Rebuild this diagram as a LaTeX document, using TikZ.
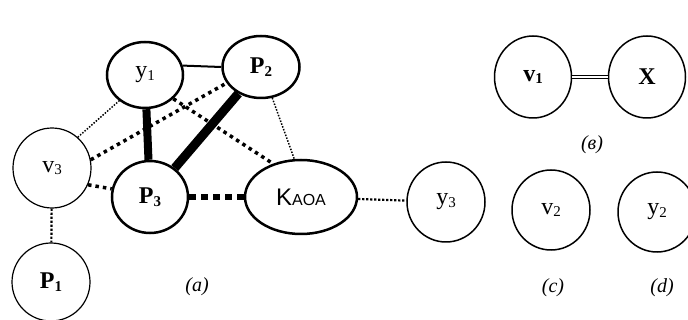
\documentclass[tikz,border=0pt]{standalone}
\usepackage{fontspec}
\setmainfont{Liberation Serif}
\newfontfamily\kaoafont{Liberation Sans}
\usetikzlibrary{shapes.geometric}
\newcommand{\sbs}[1]{\raisebox{-2.5pt}{\fontsize{15}{15}\selectfont #1}}
\tikzset{
  vtx/.style={ellipse, draw, line width=#1, inner sep=0pt, font=\fontsize{24}{24}\selectfont},
  vtx/.default=1.5pt,
  partlabel/.style={font=\fontsize{20}{20}\selectfont\itshape},
  thickdot/.style={line width=3.5pt, dash pattern=on 3.5pt off 4pt},
  thindot/.style={line width=1.5pt, dash pattern=on 1.5pt off 1.5pt},
  meddot/.style={line width=2.2pt, dash pattern=on 2.2pt off 1.8pt},
  bigdash/.style={line width=6pt, dash pattern=on 7pt off 5pt},
}
\begin{document}
\begin{tikzpicture}[x=1pt,y=-1pt]
\useasboundingbox (0,0) rectangle (688,320);
% part (a)
\node[vtx=2.5pt, minimum width=76pt, minimum height=66pt] (y1) at (145,75) {y\sbs{1}};
\node[vtx=2.5pt, minimum width=77pt, minimum height=62pt] (P2) at (261,67) {\textbf{P}\sbs{\textbf{2}}};
\node[vtx=1.2pt, minimum width=78pt, minimum height=80pt] (v3) at (52,168) {v\sbs{3}};
\node[vtx=2.5pt, minimum width=76pt, minimum height=72pt] (P3) at (150,197) {\textbf{P}\sbs{\textbf{3}}};
\node[vtx=2.5pt, minimum width=112pt, minimum height=74pt] (K) at (301,197) {\kaoafont K{\fontsize{16}{16}\selectfont AOA}};
\node[vtx=1.2pt, minimum width=78pt, minimum height=78pt] (P1) at (51,282) {\textbf{P}\sbs{\textbf{1}}};
\node[vtx=1.5pt, minimum width=78pt, minimum height=80pt] (y3) at (446,202) {y\sbs{3}};
\node[partlabel] (la) at (197,287) {(a)};
% part (в)
\node[vtx=1.5pt, minimum width=77pt, minimum height=82pt] (v1) at (533,77) {\textbf{v}\sbs{\textbf{1}}};
\node[vtx=1.5pt, minimum width=77pt, minimum height=82pt] (X) at (647,77) {\textbf{X}};
\node[partlabel] (lb) at (592,145) {(в)};
% parts (c), (d)
\node[vtx=1.5pt, minimum width=78pt, minimum height=80pt] (v2) at (551,210) {v\sbs{2}};
\node[vtx=1.5pt, minimum width=78pt, minimum height=80pt] (y2) at (657,212) {y\sbs{2}};
\node[partlabel] (lc) at (553,288) {(c)};
\node[partlabel] (ld) at (662,288) {(d)};
% connectors
\draw[line width=2pt] (y1.14) -- (P2.west);
\draw[line width=8pt] (y1) -- (P3);
\draw[line width=9pt] (P2) -- (P3);
\draw[thindot] (v3.50) -- (y1.225);
\draw[thickdot] (v3.12) -- (P2.205);
\draw[thickdot] (v3.-25) -- (P3.168);
\draw[thickdot] (y1.-40) -- (K.130);
\draw[thindot] (P2.-70) -- (K.100);
\draw[bigdash] (P3) -- (K);
\draw[meddot] (v3) -- (P1);
\draw[meddot] (K) -- (y3);
\draw[double, line width=0.8pt, double distance=1.6pt] (v1) -- (X);
\end{tikzpicture}
\end{document}
